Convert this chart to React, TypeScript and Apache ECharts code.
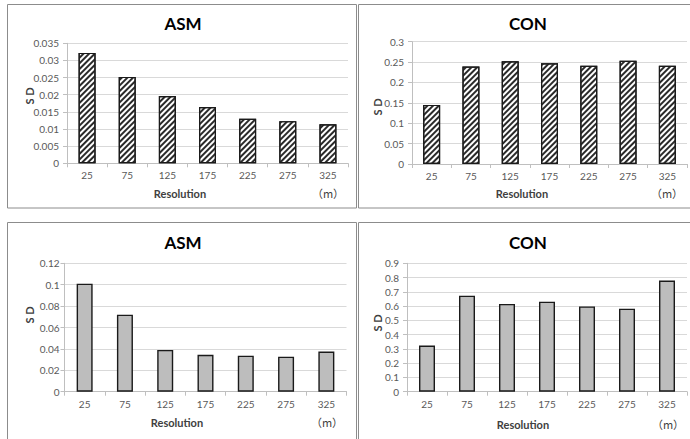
import React, { useEffect, useRef } from "react";
import * as echarts from "echarts";

const categories = ["25", "75", "125", "175", "225", "275", "325"];
const asmTop = [0.0322, 0.0252, 0.0196, 0.0164, 0.013, 0.0123, 0.0114];
const conTop = [0.145, 0.239, 0.252, 0.247, 0.241, 0.253, 0.241];
const asmBottom = [0.101, 0.072, 0.039, 0.0345, 0.0337, 0.0327, 0.0375];
const conBottom = [0.323, 0.673, 0.615, 0.631, 0.598, 0.582, 0.779];

const titles = ["ASM", "CON", "ASM", "CON"];
const yMax = [0.035, 0.3, 0.12, 0.9];
const yInterval = [0.005, 0.05, 0.02, 0.1];
const xName = "Resolution";
const unitName = "（m）";
const yName = "S D";

const FONT = "Lato, 'Liberation Sans', sans-serif";

export default function App() {
  const ref = useRef<HTMLDivElement>(null);
  useEffect(() => {
    if (!ref.current) return;
    const chart = echarts.init(ref.current, null, { renderer: "svg" });

    const grids = [
      { left: 67, top: 43.3, width: 281, height: 120 },
      { left: 412, top: 41.7, width: 275, height: 122.3 },
      { left: 64.5, top: 263.3, width: 282, height: 128.4 },
      { left: 407, top: 263.3, width: 280, height: 128.4 },
    ];
    const data = [asmTop, conTop, asmBottom, conBottom];
    const hatched = [true, true, false, false];

    const xAxis = grids.map((_, i) => ({
      type: "category",
      gridIndex: i,
      data: categories,
      boundaryGap: true,
      axisLine: { show: true, lineStyle: { color: "#bfbfbf", width: 1 } },
      axisTick: { show: true, length: 4, lineStyle: { color: "#bfbfbf" } },
      axisLabel: { color: "#595959", fontSize: 10, fontFamily: FONT, margin: 7 },
    }));
    const yAxis = grids.map((_, i) => ({
      type: "value",
      gridIndex: i,
      min: 0,
      max: yMax[i],
      interval: yInterval[i],
      axisLine: { show: true, lineStyle: { color: "#bfbfbf", width: 1 } },
      axisTick: { show: true, length: 4, lineStyle: { color: "#bfbfbf" } },
      splitLine: { show: true, lineStyle: { color: "#d9d9d9", width: 1 } },
      axisLabel: {
        color: "#595959",
        fontSize: 10,
        fontFamily: FONT,
        margin: i === 2 ? 5 : 8,
        formatter: (v: number) => String(parseFloat(v.toFixed(4))),
      },
    }));
    const series = data.map((d, i) => ({
      type: "bar",
      xAxisIndex: i,
      yAxisIndex: i,
      data: d,
      barWidth: hatched[i] ? 17 : 16,
      itemStyle: hatched[i]
        ? {
            color: "#ffffff",
            borderColor: "#1a1a1a",
            borderWidth: 1.2,
            decal: {
              symbol: "rect",
              symbolSize: 1,
              dashArrayX: [1, 0],
              dashArrayY: [1.2, 1.6],
              rotation: -Math.PI / 4,
              color: "#2a2a2a",
              backgroundColor: "#ffffff",
            },
          }
        : { color: "#bdbdbd", borderColor: "#1a1a1a", borderWidth: 1.4 },
    }));

    const panels = [
      { x: 7.5, y: 4.5, w: 349, h: 203.5 },
      { x: 358.5, y: 4.5, w: 340, h: 203.5 },
      { x: 7.5, y: 222.5, w: 349, h: 230 },
      { x: 358.5, y: 222.5, w: 340, h: 230 },
    ];
    const titlePos = [
      [183, 23],
      [528, 23],
      [183, 242],
      [528, 242],
    ];
    const xNamePos = [
      [180, 193],
      [522, 193],
      [177, 422],
      [523, 424],
    ];
    const unitPos = [
      [328, 193],
      [667, 193],
      [327, 422],
      [668, 424],
    ];
    const yNamePos = [
      [29, 96],
      [377, 107],
      [29, 315],
      [377, 323],
    ];

    const graphic: any[] = [];
    panels.forEach((p) => {
      graphic.push({
        type: "rect",
        shape: { x: p.x, y: p.y, width: p.w, height: p.h },
        style: { fill: "none", stroke: "#8c8c8c", lineWidth: 1 },
        silent: true,
        z: 0,
      });
    });
    for (let i = 0; i < 4; i++) {
      graphic.push({
        type: "text",
        x: titlePos[i][0],
        y: titlePos[i][1],
        style: {
          text: titles[i],
          fill: "#000",
          fontSize: 17,
          fontWeight: "bold",
          fontFamily: FONT,
          textAlign: "center",
          textVerticalAlign: "middle",
        },
      });
      graphic.push({
        type: "text",
        x: xNamePos[i][0],
        y: xNamePos[i][1],
        style: {
          text: xName,
          fill: "#404040",
          fontSize: 11,
          fontWeight: "bold",
          fontFamily: FONT,
          textAlign: "center",
          textVerticalAlign: "middle",
        },
      });
      graphic.push({
        type: "text",
        x: unitPos[i][0],
        y: unitPos[i][1],
        style: {
          text: unitName,
          fill: "#404040",
          fontSize: 11,
          fontFamily: "'Noto Sans CJK SC', sans-serif",
          textAlign: "center",
          textVerticalAlign: "middle",
        },
      });
      graphic.push({
        type: "text",
        x: yNamePos[i][0],
        y: yNamePos[i][1],
        rotation: Math.PI / 2,
        style: {
          text: yName,
          fill: "#404040",
          fontSize: 11,
          fontWeight: "bold",
          fontFamily: FONT,
          textAlign: "center",
          textVerticalAlign: "middle",
        },
      });
    }

    chart.setOption({
      animation: false,
      backgroundColor: "#ffffff",
      grid: grids,
      xAxis,
      yAxis,
      series,
      graphic,
    });
    return () => chart.dispose();
  }, []);

  return (
    <div
      ref={ref}
      style={{ position: "fixed", left: 0, top: 0, width: 690, height: 439 }}
    />
  );
}
